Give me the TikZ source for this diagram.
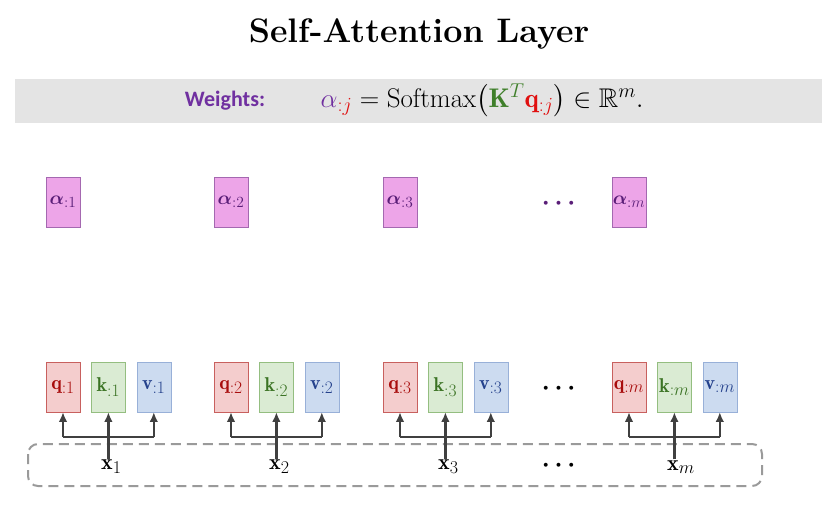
\RequirePackage{fix-cm}
\documentclass[tikz,border=0pt]{standalone}
\usepackage{amsmath,amssymb}
\usepackage{fontspec}
\newfontfamily\weightsfont{Carlito}
\usepackage{tikz}
\usetikzlibrary{arrows.meta,positioning}
\DeclareMathSizes{19}{19}{15.5}{11}
\DeclareMathSizes{20}{20}{17.5}{12}
\DeclareMathSizes{22}{22}{18}{13}
\DeclareMathSizes{27}{27}{20}{14}
\definecolor{alphafill}{HTML}{EDA5E8}
\definecolor{alphadraw}{HTML}{A468B0}
\definecolor{alphaink}{HTML}{5A1E78}
\definecolor{qfill}{HTML}{F4CDCD}
\definecolor{qdraw}{HTML}{C8605E}
\definecolor{qink}{HTML}{A80D0D}
\definecolor{kfill}{HTML}{DAEBD3}
\definecolor{kdraw}{HTML}{94BE80}
\definecolor{kink}{HTML}{3B7324}
\definecolor{vfill}{HTML}{CCDBF0}
\definecolor{vdraw}{HTML}{98B0D8}
\definecolor{vink}{HTML}{24418C}
\definecolor{bandgray}{HTML}{E4E4E4}
\definecolor{weightpurple}{HTML}{7030A0}
\definecolor{redink}{HTML}{E01010}
\definecolor{greenink}{HTML}{3F7F2A}
\definecolor{arrowink}{HTML}{404040}
\definecolor{dashgray}{HTML}{9A9A9A}
\tikzset{
  vecbox/.style={
    minimum width=34pt,
    minimum height=50pt,
    inner sep=0pt,
    font=\fontsize{20}{24}\selectfont
  },
  alphabox/.style={
    vecbox,
    draw=alphadraw,
    fill=alphafill,
    text=alphaink,
    font=\fontsize{19}{23}\selectfont
  },
  qbox/.style={
    vecbox,
    draw=qdraw,
    fill=qfill,
    text=qink
  },
  kbox/.style={
    vecbox,
    draw=kdraw,
    fill=kfill,
    text=kink
  },
  vbox/.style={
    vecbox,
    draw=vdraw,
    fill=vfill,
    text=vink
  },
  inputlabel/.style={
    anchor=west,
    inner sep=1pt,
    font=\fontsize{22}{26}\selectfont
  },
  dotslabel/.style={
    font=\fontsize{25}{29}\selectfont
  },
  feedarrow/.style={-{Latex[length=3.4mm,width=3mm]},line width=2.6pt,draw=arrowink},
  feedline/.style={line width=2.6pt,draw=arrowink}
}

\begin{document}
\begin{tikzpicture}[x=1pt,y=-1pt]
  \useasboundingbox[fill=white] (0,0) rectangle (836,505);
  % title and weights band
  \node[font=\fontsize{34}{40}\selectfont\bfseries] (title) at (419,34) {Self-Attention Layer};
  \fill[bandgray] (15,79) rectangle (822,123);
  \node[font=\fontsize{22}{26}\selectfont\weightsfont\bfseries,text=weightpurple] (weights) at (225,101) {Weights:};
  \node[font=\fontsize{27}{31}\selectfont] (formula) at (482,100)
    {$\textcolor{weightpurple}{\alpha}_{\textcolor{redink}{:j}}
      = \mathrm{Softmax}\bigl(\textcolor{greenink}{\mathbf{K}^{T}}\textcolor{redink}{\mathbf{q}_{:j}}\bigr)
      \in \mathbb{R}^{m}.$};

  % input row
  \draw[dashgray,line width=2pt,dash pattern=on 10pt off 6pt,rounded corners=10pt]
    (28,444) rectangle (762,486);

  % attention weights
  \node[alphabox] (a1) at (63,202) {$\boldsymbol{\alpha}_{:1}$};
  \node[alphabox] (a2) at (231,202) {$\boldsymbol{\alpha}_{:2}$};
  \node[alphabox] (a3) at (400,202) {$\boldsymbol{\alpha}_{:3}$};
  \node[dotslabel,text=alphaink] (adots) at (561,204) {$\boldsymbol{\cdots}$};
  \node[alphabox] (am) at (629,202) {$\boldsymbol{\alpha}_{:m}$};

  % queries, keys, values
  \node[qbox] (q1) at (63,387) {$\mathbf{q}_{:1}$};
  \node[kbox, right=11pt of q1] (k1) {$\mathbf{k}_{:1}$};
  \node[vbox, right=11pt of k1] (v1) {$\mathbf{v}_{:1}$};
  \node[qbox] (q2) at (231,387) {$\mathbf{q}_{:2}$};
  \node[kbox, right=11pt of q2] (k2) {$\mathbf{k}_{:2}$};
  \node[vbox, right=11pt of k2] (v2) {$\mathbf{v}_{:2}$};
  \node[qbox] (q3) at (400,387) {$\mathbf{q}_{:3}$};
  \node[kbox, right=11pt of q3] (k3) {$\mathbf{k}_{:3}$};
  \node[vbox, right=11pt of k3] (v3) {$\mathbf{v}_{:3}$};
  \node[dotslabel] (qdots) at (561,389) {$\boldsymbol{\cdots}$};
  \node[qbox] (qm) at (629,387) {$\mathbf{q}_{:m}$};
  \node[kbox, right=11pt of qm] (km) {$\mathbf{k}_{:m}$};
  \node[vbox, right=11pt of km] (vm) {$\mathbf{v}_{:m}$};

  % inputs
  \node[inputlabel] (x1) at (100,467) {$\mathbf{x}_1$};
  \node[inputlabel] (x2) at (268,467) {$\mathbf{x}_2$};
  \node[inputlabel] (x3) at (437,467) {$\mathbf{x}_3$};
  \node[dotslabel] (xdots) at (561,466) {$\boldsymbol{\cdots}$};
  \node[inputlabel] (xm) at (666,467) {$\mathbf{x}_m$};

  \draw[feedarrow] (k1.south |- x1.north) -- (k1.south);
  \draw[feedline] (q1.south |- 0,437) -- (v1.south |- 0,437);
  \draw[feedarrow] (q1.south |- 0,437) -- (q1.south);
  \draw[feedarrow] (v1.south |- 0,437) -- (v1.south);
  \draw[feedarrow] (k2.south |- x2.north) -- (k2.south);
  \draw[feedline] (q2.south |- 0,437) -- (v2.south |- 0,437);
  \draw[feedarrow] (q2.south |- 0,437) -- (q2.south);
  \draw[feedarrow] (v2.south |- 0,437) -- (v2.south);
  \draw[feedarrow] (k3.south |- x3.north) -- (k3.south);
  \draw[feedline] (q3.south |- 0,437) -- (v3.south |- 0,437);
  \draw[feedarrow] (q3.south |- 0,437) -- (q3.south);
  \draw[feedarrow] (v3.south |- 0,437) -- (v3.south);
  \draw[feedarrow] (km.south |- xm.north) -- (km.south);
  \draw[feedline] (qm.south |- 0,437) -- (vm.south |- 0,437);
  \draw[feedarrow] (qm.south |- 0,437) -- (qm.south);
  \draw[feedarrow] (vm.south |- 0,437) -- (vm.south);
\end{tikzpicture}
\end{document}
